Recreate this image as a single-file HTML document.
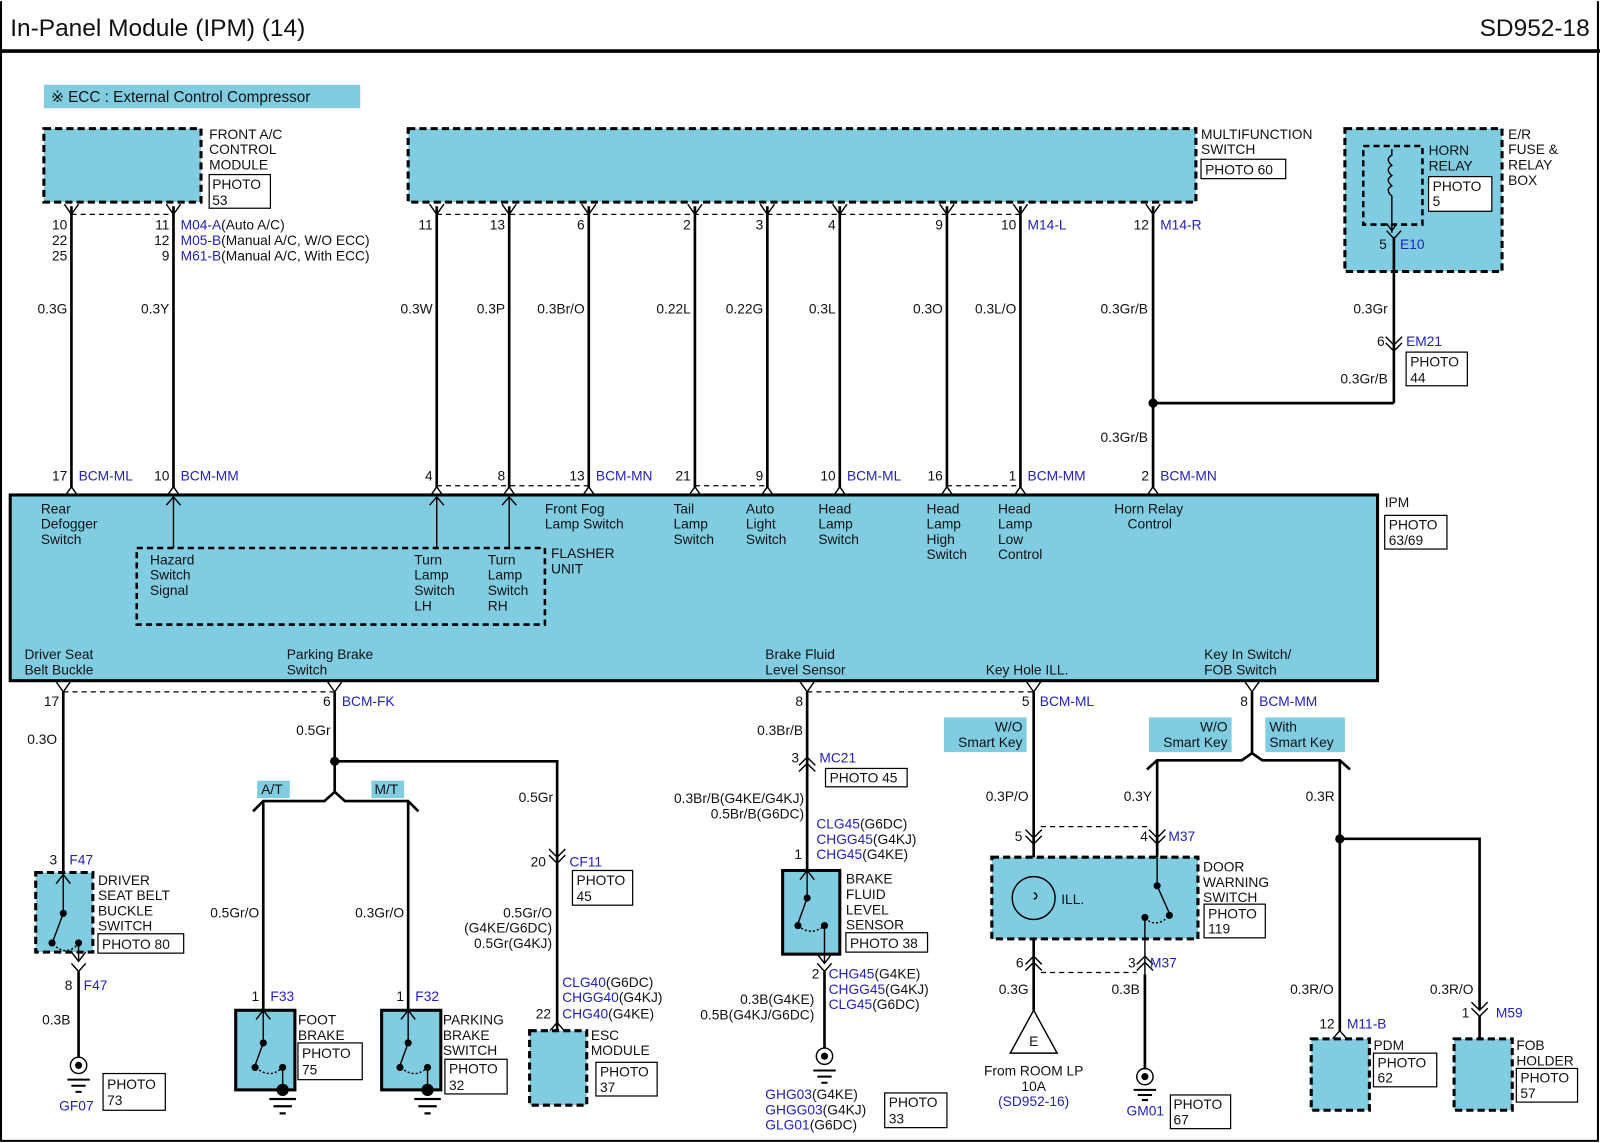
<!DOCTYPE html>
<html><head><meta charset="utf-8"><style>
html,body{margin:0;padding:0;background:#fff}
svg{display:block}
text{font-family:"Liberation Sans",sans-serif;font-size:13.5px;fill:#111}
.b{fill:#2323b5}.r{text-anchor:end}.m{text-anchor:middle}
.w{stroke:#000;stroke-width:2.6;fill:none}
.t{stroke:#000;stroke-width:1.4;fill:none}
.d{stroke:#000;stroke-width:1.2;fill:none;stroke-dasharray:5 4}
.bx{fill:#80cde1;stroke:#000;stroke-width:3;stroke-dasharray:7 4}
.sb{fill:#80cde1;stroke:#000;stroke-width:3}
.p{fill:#fff;stroke:#000;stroke-width:1.2}
</style></head><body>
<svg width="1600" height="1143" viewBox="0 0 1568 1120" xmlns="http://www.w3.org/2000/svg">
<rect x="0" y="0" width="1568" height="1120" fill="#fff"/>
<path d="M1 1V1118H1566V1" stroke="#000" stroke-width="2" fill="none"/>
<line x1="0" y1="50" x2="1568" y2="50" stroke="#000" stroke-width="3.5"/>
<text x="10" y="35" style="font-size:24px">In-Panel Module (IPM) (14)</text>
<text x="1558" y="35" class="r" style="font-size:24px">SD952-18</text>

<rect x="43" y="83" width="310" height="23" fill="#80cde1"/>
<text x="50" y="100" style="font-size:15px">※ ECC : External Control Compressor</text>

<rect x="43" y="126" width="154" height="72" class="bx"/>
<text x="205" y="136">FRONT A/C</text><text x="205" y="151">CONTROL</text><text x="205" y="166">MODULE</text>
<rect x="205" y="171" width="60" height="33" class="p"/><text x="208" y="185">PHOTO</text><text x="208" y="201">53</text>

<rect x="400" y="126" width="772" height="72" class="bx"/>
<text x="1177" y="136">MULTIFUNCTION</text><text x="1177" y="151">SWITCH</text>
<rect x="1177" y="156" width="83" height="19" class="p"/><text x="1181" y="171">PHOTO 60</text>

<rect x="1318" y="126" width="154" height="140" class="bx"/>
<rect x="1336" y="143" width="58" height="77" fill="none" stroke="#000" stroke-width="2.5" stroke-dasharray="6 4"/>
<path d="M1364 146V152 q-7 4 0 10 q-7 4 0 10 q-7 4 0 10 q-7 4 0 10 V228" class="t"/>
<path d="M1359 219L1364 226L1369 219" class="t"/>
<text x="1400" y="152">HORN</text><text x="1400" y="167">RELAY</text>
<rect x="1400" y="173" width="62" height="34" class="p"/><text x="1404" y="187">PHOTO</text><text x="1404" y="202">5</text>
<text x="1478" y="136">E/R</text><text x="1478" y="151">FUSE &amp;</text><text x="1478" y="166">RELAY</text><text x="1478" y="181">BOX</text>
<path d="M1359 226L1366 234L1373 226" class="t"/>
<text x="1359" y="244" class="r">5</text><text x="1372" y="244" class="b">E10</text>
<line x1="1366" y1="232" x2="1366" y2="395" class="w"/>
<text x="1360" y="307" class="r">0.3Gr</text>
<path d="M1358 330L1366 338L1374 330M1358 336L1366 344L1374 336" class="t"/>
<text x="1357" y="339" class="r">6</text><text x="1378" y="339" class="b">EM21</text>
<rect x="1378" y="345" width="60" height="33" class="p"/><text x="1382" y="359">PHOTO</text><text x="1382" y="375">44</text>
<text x="1360" y="376" class="r">0.3Gr/B</text>
<path d="M1130 395H1366" class="w"/><circle cx="1130" cy="395" r="4.5"/>
<text x="1125" y="307" class="r">0.3Gr/B</text><text x="1125" y="433" class="r">0.3Gr/B</text>

<g class="w">
<line x1="70" y1="202" x2="70" y2="478"/><line x1="170" y1="202" x2="170" y2="478"/>
<line x1="428" y1="202" x2="428" y2="478"/><line x1="499" y1="202" x2="499" y2="478"/>
<line x1="577" y1="202" x2="577" y2="478"/><line x1="681" y1="202" x2="681" y2="478"/>
<line x1="752" y1="202" x2="752" y2="478"/><line x1="823" y1="202" x2="823" y2="478"/>
<line x1="928" y1="202" x2="928" y2="478"/><line x1="1000" y1="202" x2="1000" y2="478"/>
<line x1="1130" y1="202" x2="1130" y2="478"/>
</g>
<g class="t">
<path d="M63 200L70 210L77 200M163 200L170 210L177 200M421 200L428 210L435 200M492 200L499 210L506 200M570 200L577 210L584 200M674 200L681 210L688 200M745 200L752 210L759 200M816 200L823 210L830 200M921 200L928 210L935 200M993 200L1000 210L1007 200M1123 200L1130 210L1137 200"/>
<path d="M63 487L70 477L77 487M163 487L170 477L177 487M421 487L428 477L435 487M492 487L499 477L506 487M570 487L577 477L584 487M674 487L681 477L688 487M745 487L752 477L759 487M816 487L823 477L830 487M921 487L928 477L935 487M993 487L1000 477L1007 487M1123 487L1130 477L1137 487"/>
</g>
<path d="M70 210H170M428 210H1000" class="d"/>
<path d="M428 476H577M681 476H752M928 476H1000" class="d"/>
<text x="66" y="225" class="r">10</text><text x="66" y="240" class="r">22</text><text x="66" y="255" class="r">25</text>
<text x="166" y="225" class="r">11</text><text x="166" y="240" class="r">12</text><text x="166" y="255" class="r">9</text>
<text x="177" y="225"><tspan class="b">M04-A</tspan>(Auto A/C)</text>
<text x="177" y="240"><tspan class="b">M05-B</tspan>(Manual A/C, W/O ECC)</text>
<text x="177" y="255"><tspan class="b">M61-B</tspan>(Manual A/C, With ECC)</text>
<text x="424" y="225" class="r">11</text><text x="495" y="225" class="r">13</text><text x="573" y="225" class="r">6</text>
<text x="677" y="225" class="r">2</text><text x="748" y="225" class="r">3</text><text x="819" y="225" class="r">4</text>
<text x="924" y="225" class="r">9</text><text x="996" y="225" class="r">10</text><text x="1126" y="225" class="r">12</text>
<text x="1007" y="225" class="b">M14-L</text><text x="1137" y="225" class="b">M14-R</text>
<text x="66" y="307" class="r">0.3G</text><text x="166" y="307" class="r">0.3Y</text><text x="424" y="307" class="r">0.3W</text>
<text x="495" y="307" class="r">0.3P</text><text x="573" y="307" class="r">0.3Br/O</text><text x="677" y="307" class="r">0.22L</text>
<text x="748" y="307" class="r">0.22G</text><text x="819" y="307" class="r">0.3L</text><text x="924" y="307" class="r">0.3O</text>
<text x="996" y="307" class="r">0.3L/O</text>
<text x="66" y="471" class="r">17</text><text x="166" y="471" class="r">10</text><text x="424" y="471" class="r">4</text>
<text x="495" y="471" class="r">8</text><text x="573" y="471" class="r">13</text><text x="677" y="471" class="r">21</text>
<text x="748" y="471" class="r">9</text><text x="819" y="471" class="r">10</text><text x="924" y="471" class="r">16</text>
<text x="996" y="471" class="r">1</text><text x="1126" y="471" class="r">2</text>
<text x="77" y="471" class="b">BCM-ML</text><text x="177" y="471" class="b">BCM-MM</text><text x="584" y="471" class="b">BCM-MN</text>
<text x="830" y="471" class="b">BCM-ML</text><text x="1007" y="471" class="b">BCM-MM</text><text x="1137" y="471" class="b">BCM-MN</text>

<rect x="10" y="485" width="1340" height="182" class="sb"/>
<text x="1357" y="497">IPM</text>
<rect x="1357" y="505" width="61" height="33" class="p"/><text x="1361" y="519">PHOTO</text><text x="1361" y="534">63/69</text>
<rect x="134" y="537" width="400" height="75" fill="none" stroke="#000" stroke-width="2.5" stroke-dasharray="6 4"/>
<g class="t"><path d="M170 537V487M163 495L170 487L177 495M428 537V487M421 495L428 487L435 495M499 537V487M492 495L499 487L506 495"/></g>
<text x="40" y="503">Rear</text><text x="40" y="518">Defogger</text><text x="40" y="533">Switch</text>
<text x="147" y="553">Hazard</text><text x="147" y="568">Switch</text><text x="147" y="583">Signal</text>
<text x="406" y="553">Turn</text><text x="406" y="568">Lamp</text><text x="406" y="583">Switch</text><text x="406" y="598">LH</text>
<text x="478" y="553">Turn</text><text x="478" y="568">Lamp</text><text x="478" y="583">Switch</text><text x="478" y="598">RH</text>
<text x="540" y="547">FLASHER</text><text x="540" y="562">UNIT</text>
<text x="534" y="503">Front Fog</text><text x="534" y="518">Lamp Switch</text>
<text x="660" y="503">Tail</text><text x="660" y="518">Lamp</text><text x="660" y="533">Switch</text>
<text x="731" y="503">Auto</text><text x="731" y="518">Light</text><text x="731" y="533">Switch</text>
<text x="802" y="503">Head</text><text x="802" y="518">Lamp</text><text x="802" y="533">Switch</text>
<text x="908" y="503">Head</text><text x="908" y="518">Lamp</text><text x="908" y="533">High</text><text x="908" y="548">Switch</text>
<text x="978" y="503">Head</text><text x="978" y="518">Lamp</text><text x="978" y="533">Low</text><text x="978" y="548">Control</text>
<text x="1092" y="503">Horn Relay</text><text x="1105" y="518">Control</text>
<text x="24" y="646">Driver Seat</text><text x="24" y="661">Belt Buckle</text>
<text x="281" y="646">Parking Brake</text><text x="281" y="661">Switch</text>
<text x="750" y="646">Brake Fluid</text><text x="750" y="661">Level Sensor</text>
<text x="966" y="661">Key Hole ILL.</text>
<text x="1180" y="646">Key In Switch/</text><text x="1180" y="661">FOB Switch</text>

<g class="t"><path d="M55 668L62 678L69 668M321 668L328 678L335 668M784 668L791 678L798 668M1006 668L1013 678L1020 668M1220 668L1227 678L1234 668"/></g>
<path d="M62 678H328M791 678H1013" class="d"/>
<text x="58" y="692" class="r">17</text><text x="324" y="692" class="r">6</text><text x="335" y="692" class="b">BCM-FK</text>
<text x="787" y="692" class="r">8</text><text x="1009" y="692" class="r">5</text><text x="1019" y="692" class="b">BCM-ML</text>
<text x="1223" y="692" class="r">8</text><text x="1234" y="692" class="b">BCM-MM</text>

<line x1="62" y1="678" x2="62" y2="857" class="w"/>
<text x="56" y="729" class="r">0.3O</text>
<text x="56" y="847" class="r">3</text><text x="68" y="847" class="b">F47</text>
<rect x="35" y="855" width="56" height="78" class="bx"/>
<g class="t"><path d="M55 866L62 857L69 866M62 857V895L52 922M77 925V942M70 933L77 942L84 933M70 944L77 952L84 944" /><path d="M52 925Q64 938 77 925" stroke-dasharray="2 2"/></g>
<circle cx="62" cy="895" r="3.5"/><circle cx="51" cy="924" r="3.5"/><circle cx="77" cy="924" r="3.5"/>
<text x="96" y="867">DRIVER</text><text x="96" y="882">SEAT BELT</text><text x="96" y="897">BUCKLE</text><text x="96" y="912">SWITCH</text>
<rect x="96" y="915" width="84" height="19" class="p"/><text x="100" y="930">PHOTO 80</text>
<text x="71" y="970" class="r">8</text><text x="82" y="970" class="b">F47</text>
<line x1="77" y1="952" x2="77" y2="1036" class="w"/>
<text x="69" y="1004" class="r">0.3B</text>
<circle cx="77" cy="1044" r="8" class="t" stroke-width="2.5"/><circle cx="77" cy="1044" r="3.5"/>
<path d="M66 1058H88M70 1064H84M74 1070H80" stroke="#000" stroke-width="2"/>
<text x="58" y="1088" class="b">GF07</text>
<rect x="101" y="1052" width="61" height="36" class="p"/><text x="105" y="1067">PHOTO</text><text x="105" y="1083">73</text>

<path d="M328 678V776L318 785H258L248 795M328 776L338 785H400L410 795M328 746H546V845" class="w" stroke-width="2.2"/>
<circle cx="328" cy="746" r="4.5"/>
<text x="324" y="720" class="r">0.5Gr</text>
<rect x="252" y="765" width="32" height="17" fill="#80cde1"/><text x="256" y="778">A/T</text>
<rect x="364" y="765" width="32" height="17" fill="#80cde1"/><text x="367" y="778">M/T</text>
<line x1="258" y1="785" x2="258" y2="990" class="w"/><line x1="400" y1="785" x2="400" y2="990" class="w"/>
<text x="254" y="899" class="r">0.5Gr/O</text><text x="396" y="899" class="r">0.3Gr/O</text>
<text x="254" y="981" class="r">1</text><text x="265" y="981" class="b">F33</text>
<text x="396" y="981" class="r">1</text><text x="407" y="981" class="b">F32</text>
<rect x="231" y="990" width="58" height="78" class="sb"/>
<rect x="374" y="990" width="58" height="78" class="sb"/>
<g class="t">
<path d="M251 999L258 990L265 999M258 990V1022L250 1044M277 1046V1070"/><path d="M251 1046Q264 1058 277 1046" stroke-dasharray="2 2"/>
<path d="M393 999L400 990L407 999M400 990V1022L392 1044M419 1046V1070"/><path d="M393 1046Q406 1058 419 1046" stroke-dasharray="2 2"/>
</g>
<circle cx="258" cy="1022" r="3.5"/><circle cx="250" cy="1046" r="3.5"/><circle cx="277" cy="1046" r="3.5"/>
<circle cx="400" cy="1022" r="3.5"/><circle cx="392" cy="1046" r="3.5"/><circle cx="419" cy="1046" r="3.5"/>
<circle cx="277" cy="1068" r="6"/><circle cx="419" cy="1068" r="6"/>
<path d="M264 1077H290M268 1084H286M274 1091H280M406 1077H432M410 1084H428M416 1091H422" stroke="#000" stroke-width="2.2"/>
<text x="292" y="1004">FOOT</text><text x="292" y="1019">BRAKE</text>
<rect x="292" y="1022" width="63" height="36" class="p"/><text x="296" y="1037">PHOTO</text><text x="296" y="1053">75</text>
<text x="434" y="1004">PARKING</text><text x="434" y="1019">BRAKE</text><text x="434" y="1034">SWITCH</text>
<rect x="436" y="1038" width="61" height="34" class="p"/><text x="440" y="1052">PHOTO</text><text x="440" y="1068">32</text>

<text x="542" y="786" class="r">0.5Gr</text>
<path d="M538 832L546 840L554 832M538 838L546 846L554 838" class="t"/>
<text x="535" y="849" class="r">20</text><text x="558" y="849" class="b">CF11</text>
<rect x="561" y="853" width="59" height="34" class="p"/><text x="565" y="867">PHOTO</text><text x="565" y="883">45</text>
<line x1="546" y1="846" x2="546" y2="1010" class="w"/>
<text x="541" y="899" class="r">0.5Gr/O</text><text x="541" y="914" class="r">(G4KE/G6DC)</text><text x="541" y="929" class="r">0.5Gr(G4KJ)</text>
<text x="551" y="967"><tspan class="b">CLG40</tspan>(G6DC)</text>
<text x="551" y="982"><tspan class="b">CHGG40</tspan>(G4KJ)</text>
<text x="551" y="998"><tspan class="b">CHG40</tspan>(G4KE)</text>
<text x="540" y="998" class="r">22</text>
<path d="M539 1010L546 1002L553 1010" class="t"/>
<rect x="519" y="1010" width="56" height="73" class="bx"/>
<text x="579" y="1019">ESC</text><text x="579" y="1034">MODULE</text>
<rect x="584" y="1041" width="60" height="33" class="p"/><text x="588" y="1055">PHOTO</text><text x="588" y="1070">37</text>

<line x1="791" y1="678" x2="791" y2="853" class="w"/>
<text x="787" y="720" class="r">0.3Br/B</text>
<path d="M783 750L791 742L799 750M783 756L791 748L799 756" class="t"/>
<text x="783" y="747" class="r">3</text><text x="803" y="747" class="b">MC21</text>
<rect x="809" y="753" width="80" height="18" class="p"/><text x="813" y="767">PHOTO 45</text>
<text x="788" y="787" class="r">0.3Br/B(G4KE/G4KJ)</text><text x="788" y="802" class="r">0.5Br/B(G6DC)</text>
<text x="800" y="812"><tspan class="b">CLG45</tspan>(G6DC)</text>
<text x="800" y="827"><tspan class="b">CHGG45</tspan>(G4KJ)</text>
<text x="800" y="842"><tspan class="b">CHG45</tspan>(G4KE)</text>
<text x="786" y="842" class="r">1</text>
<rect x="767" y="853" width="56" height="82" class="sb"/>
<g class="t"><path d="M784 862L791 853L798 862M791 853V880L782 905M808 907V944M801 935L808 944L815 935M801 944L808 952L815 944"/><path d="M782 907Q795 918 808 907" stroke-dasharray="2 2"/></g>
<circle cx="791" cy="880" r="3.5"/><circle cx="782" cy="907" r="3.5"/><circle cx="808" cy="907" r="3.5"/>
<text x="829" y="866">BRAKE</text><text x="829" y="881">FLUID</text><text x="829" y="896">LEVEL</text><text x="829" y="911">SENSOR</text>
<rect x="829" y="914" width="80" height="19" class="p"/><text x="833" y="929">PHOTO 38</text>
<text x="803" y="959" class="r">2</text>
<text x="812" y="959"><tspan class="b">CHG45</tspan>(G4KE)</text>
<text x="812" y="974"><tspan class="b">CHGG45</tspan>(G4KJ)</text>
<text x="812" y="989"><tspan class="b">CLG45</tspan>(G6DC)</text>
<text x="798" y="984" class="r">0.3B(G4KE)</text><text x="798" y="999" class="r">0.5B(G4KJ/G6DC)</text>
<line x1="808" y1="952" x2="808" y2="1027" class="w"/>
<circle cx="808" cy="1035" r="8" class="t" stroke-width="2.5"/><circle cx="808" cy="1035" r="3.5"/>
<path d="M797 1049H819M801 1055H815M805 1061H811" stroke="#000" stroke-width="2"/>
<text x="750" y="1077"><tspan class="b">GHG03</tspan>(G4KE)</text>
<text x="750" y="1092"><tspan class="b">GHGG03</tspan>(G4KJ)</text>
<text x="750" y="1107"><tspan class="b">GLG01</tspan>(G6DC)</text>
<rect x="867" y="1071" width="61" height="34" class="p"/><text x="871" y="1085">PHOTO</text><text x="871" y="1101">33</text>

<rect x="925" y="703" width="81" height="34" fill="#80cde1"/><text x="1002" y="717" class="r">W/O</text><text x="1002" y="732" class="r">Smart Key</text>
<rect x="1126" y="703" width="81" height="34" fill="#80cde1"/><text x="1203" y="717" class="r">W/O</text><text x="1203" y="732" class="r">Smart Key</text>
<rect x="1240" y="703" width="78" height="34" fill="#80cde1"/><text x="1244" y="717">With</text><text x="1244" y="732">Smart Key</text>
<line x1="1013" y1="678" x2="1013" y2="990" class="w"/>
<text x="1008" y="785" class="r">0.3P/O</text>
<path d="M1227 678V738L1217 745H1134L1124 754M1227 738L1237 745H1313L1323 754" class="w" stroke-width="2.2"/>
<line x1="1134" y1="745" x2="1134" y2="840" class="w"/>
<text x="1129" y="785" class="r">0.3Y</text>
<text x="1308" y="785" class="r">0.3R</text>
<path d="M1005 813L1013 821L1021 813M1005 819L1013 827L1021 819M1126 813L1134 821L1142 813M1126 819L1134 827L1142 819" class="t"/>
<path d="M1020 810H1126" class="d"/>
<text x="1002" y="824" class="r">5</text><text x="1125" y="824" class="r">4</text><text x="1145" y="824" class="b">M37</text>
<rect x="972" y="840" width="202" height="80" class="bx"/>
<circle cx="1013" cy="880" r="21" class="t"/>
<path d="M1013 875a3 3 0 1 1 0 6" class="t"/>
<text x="1040" y="886">ILL.</text>
<g class="t"><path d="M1134 840V868L1146 895M1122 897V955"/><path d="M1122 900Q1134 910 1146 897" stroke-dasharray="2 2"/></g>
<circle cx="1134" cy="868" r="3.5"/><circle cx="1146" cy="897" r="3.5"/><circle cx="1122" cy="899" r="3.5"/>
<text x="1179" y="854">DOOR</text><text x="1179" y="869">WARNING</text><text x="1179" y="884">SWITCH</text>
<rect x="1180" y="886" width="60" height="33" class="p"/><text x="1184" y="900">PHOTO</text><text x="1184" y="915">119</text>
<path d="M1005 945L1013 937L1021 945M1005 951L1013 943L1021 951M1114 945L1122 937L1130 945M1114 951L1122 943L1130 951" class="t"/>
<path d="M1020 953H1114" class="d"/>
<text x="1003" y="948" class="r">6</text><text x="1113" y="948" class="r">3</text><text x="1127" y="948" class="b">M37</text>
<text x="1008" y="974" class="r">0.3G</text><text x="1117" y="974" class="r">0.3B</text>
<path d="M1013 990L990 1032H1036Z" class="t" stroke-width="2.5" fill="#fff"/>
<text x="1013" y="1025" class="m">E</text>
<text x="1013" y="1054" class="m">From ROOM LP</text><text x="1013" y="1069" class="m">10A</text><text x="1013" y="1084" class="m b">(SD952-16)</text>
<line x1="1122" y1="955" x2="1122" y2="1048" class="w"/>
<circle cx="1122" cy="1055" r="8" class="t" stroke-width="2.5"/><circle cx="1122" cy="1055" r="3.5"/>
<path d="M1111 1068H1133M1115 1073H1129M1119 1078H1125" stroke="#000" stroke-width="2"/>
<text x="1104" y="1093" class="b">GM01</text>
<rect x="1147" y="1073" width="59" height="33" class="p"/><text x="1150" y="1087">PHOTO</text><text x="1150" y="1102">67</text>

<path d="M1313 745V1010M1313 822H1450V990" class="w"/>
<circle cx="1313" cy="822" r="4.5"/>
<text x="1307" y="974" class="r">0.3R/O</text><text x="1444" y="974" class="r">0.3R/O</text>
<path d="M1442 982L1450 990L1458 982M1442 988L1450 996L1458 988" class="t"/>
<text x="1440" y="997" class="r">1</text><text x="1466" y="997" class="b">M59</text>
<line x1="1450" y1="996" x2="1450" y2="1018" class="w"/>
<path d="M1306 1018L1313 1010L1320 1018" class="t"/>
<text x="1308" y="1008" class="r">12</text><text x="1320" y="1008" class="b">M11-B</text>
<rect x="1285" y="1018" width="57" height="70" class="bx"/>
<text x="1346" y="1029">PDM</text>
<rect x="1346" y="1032" width="62" height="33" class="p"/><text x="1350" y="1046">PHOTO</text><text x="1350" y="1061">62</text>
<rect x="1425" y="1018" width="57" height="70" class="bx"/>
<text x="1486" y="1029">FOB</text><text x="1486" y="1044">HOLDER</text>
<rect x="1486" y="1047" width="60" height="33" class="p"/><text x="1490" y="1061">PHOTO</text><text x="1490" y="1076">57</text>
</svg>
</body></html>
